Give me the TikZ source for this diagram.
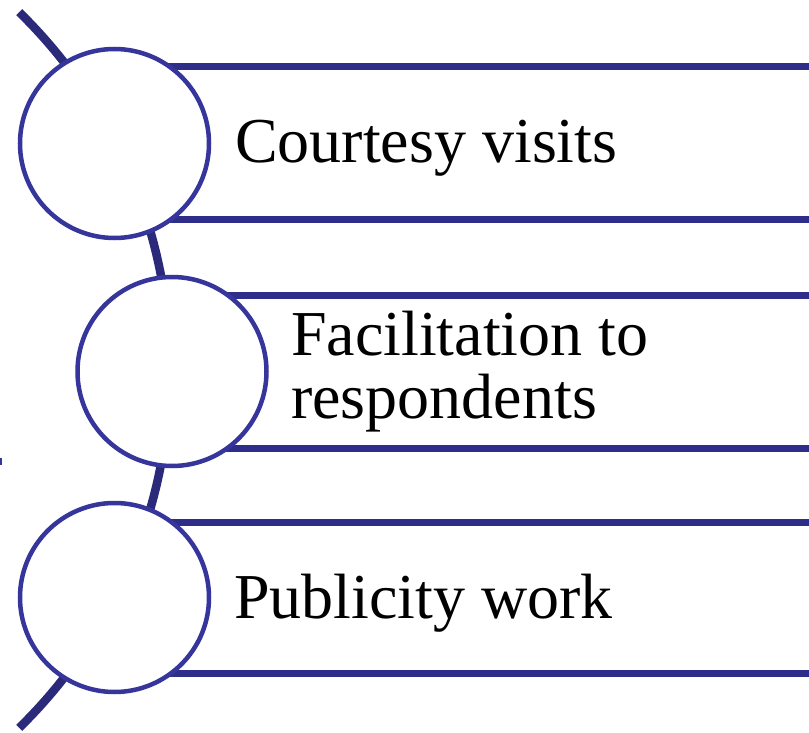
\documentclass[tikz,border=0pt]{standalone}
\usepackage{fontspec}
\setmainfont{Liberation Serif}
\definecolor{ringblue}{HTML}{35359C}
\definecolor{barblue}{HTML}{2E2E8A}
\definecolor{arcnavy}{HTML}{2B2A7A}
\begin{document}
\begin{tikzpicture}[x=1pt,y=-1pt,
  ring/.style={circle,draw=ringblue,line width=4.5pt,fill=white,minimum size=189pt,inner sep=0pt},
  bar/.style={draw=barblue,line width=7pt},
  label/.style={inner sep=0pt,anchor=base west,font=\fontsize{64}{63}\selectfont,align=left}]
\useasboundingbox (0,0) rectangle (809,733);
\fill[white] (0,0) rectangle (809,733);
% big arc behind the circles
\coordinate (arcc) at (-330,370);
\draw[draw=arcnavy,line width=8.5pt] (arcc) ++(-45.7:500) arc[start angle=-45.7,end angle=45.7,radius=500];
% small tick at the left edge
\draw[draw=ringblue,line width=1.5pt] (1,458) -- (1,465);
% right ends of the bars
\coordinate (r1t) at (812,67);
\coordinate (r1b) at (812,219);
\coordinate (r2t) at (812,295);
\coordinate (r2b) at (812,448);
\coordinate (r3t) at (812,522);
\coordinate (r3b) at (812,673);
\coordinate (l1t) at (114.5,67);
\coordinate (l1b) at (114.5,219);
\coordinate (l2t) at (172,295);
\coordinate (l2b) at (172,448);
\coordinate (l3t) at (114.5,522);
\coordinate (l3b) at (114.5,673);
\draw[bar] (l1t) -- (r1t);
\draw[bar] (l1b) -- (r1b);
\draw[bar] (l2t) -- (r2t);
\draw[bar] (l2b) -- (r2b);
\draw[bar] (l3t) -- (r3t);
\draw[bar] (l3b) -- (r3b);
% circles
\node[ring] (c1) at (114.5,143.5) {};
\node[ring] (c2) at (172,371.5) {};
\node[ring] (c3) at (114.5,597.5) {};
% texts
\node[label] (t1) at (235,163) {Courtesy visits};
\node[label] (t2) at (291,418) {Facilitation to\\respondents};
\node[label] (t3) at (234,618) {Publicity work};
\end{tikzpicture}
\end{document}
